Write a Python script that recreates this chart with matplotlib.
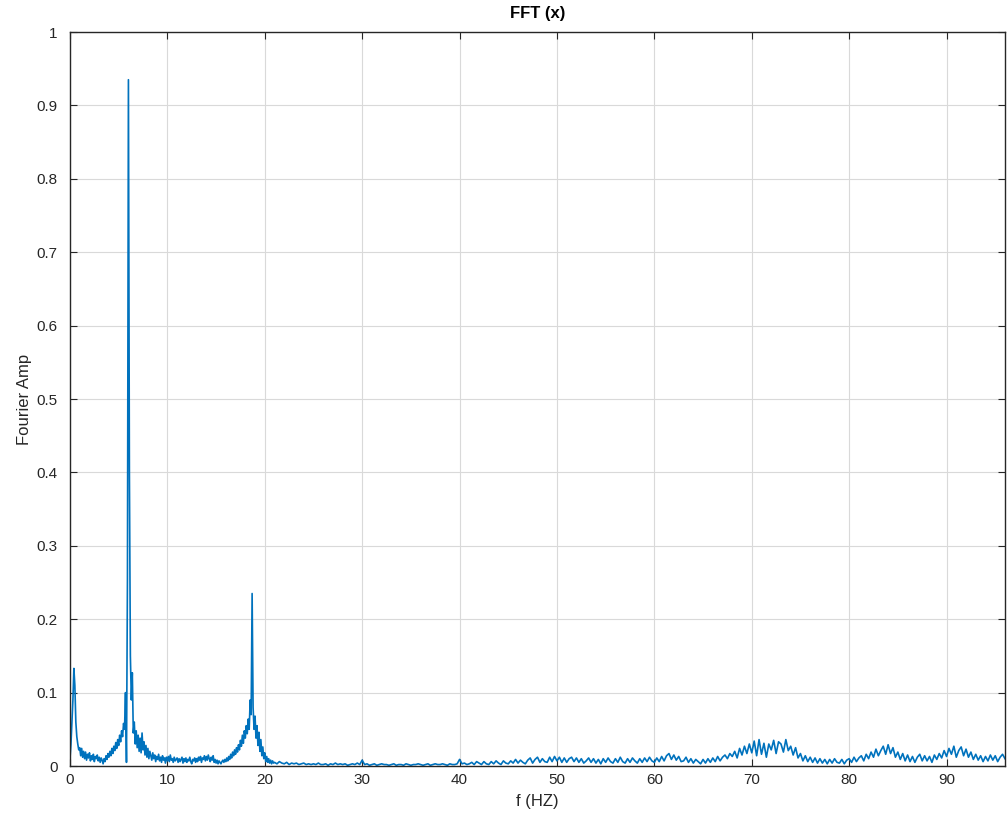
#FFT amplitude spectrum
import numpy as np
import matplotlib.pyplot as plt
from matplotlib.ticker import FormatStrFormatter

#low band 0 .. 20.9 Hz, step 0.1 Hz, amplitude in thousandths
low_start = 0.0
low_step = 0.1
low_amp = [
    10, 30, 60, 90, 133, 110, 60, 40, 30, 22,
    25, 14, 24, 12, 20, 10, 19, 8, 16, 11,
    18, 7, 14, 9, 16, 6, 13, 10, 15, 7,
    12, 5, 11, 8, 3, 10, 6, 14, 9, 17,
    12, 20, 14, 24, 17, 27, 21, 32, 24, 36,
    28, 42, 33, 48, 40, 58, 50, 100, 5, 255,
    935, 400, 150, 90, 127, 45, 60, 30, 48, 25,
    42, 20, 38, 18, 45, 22, 33, 15, 28, 12,
    24, 10, 20, 14, 8, 18, 10, 15, 6, 13,
    9, 16, 7, 12, 5, 14, 8, 11, 4, 12,
    7, 13, 6, 15, 8, 10, 5, 12, 7, 9,
    11, 5, 10, 6, 9, 12, 4, 10, 6, 11,
    5, 9, 7, 12, 6, 3, 9, 7, 11, 5,
    10, 6, 12, 8, 13, 5, 11, 9, 14, 7,
    13, 8, 15, 10, 6, 12, 8, 14, 5, 9,
    4, 8, 3, 7, 5, 3, 6, 8, 5, 9,
    6, 11, 7, 13, 9, 16, 11, 19, 14, 22,
    16, 25, 19, 29, 22, 35, 27, 42, 31, 48,
    38, 55, 44, 64, 50, 90, 70, 235, 80, 50,
    68, 38, 55, 28, 46, 20, 36, 14, 26, 10,
    18, 6, 13, 5, 10, 4, 8, 3, 7, 4,
]

#high band 21 .. 96 Hz, step 0.25 Hz, amplitude in thousandths
high_start = 21.0
high_step = 0.25
high_amp = [
    5, 3, 6, 4,  3, 5, 2, 4,  3, 4, 2, 3,  4, 2, 3, 2,  3, 2, 4, 2,
    2, 3, 1, 3,  2, 4, 2, 3,  2, 3, 1, 2,  3, 2, 4, 2,  8, 2, 3, 1,
    2, 3, 1, 2,  3, 2, 2, 1,  2, 3, 1, 2,  2, 1, 3, 2,  1, 2, 2, 3,
    2, 1, 2, 3,  1, 2, 3, 2,  2, 3, 2, 1,  3, 2, 2, 3,  9, 3, 4, 2,
    3, 5, 2, 6,  4, 2, 6, 3,  2, 6, 3, 7,  4, 2, 7, 4,  3, 7, 4, 9,
    4, 8, 5, 3,  8, 11, 4, 9,  12, 5, 10, 6,  5, 12, 6, 13,  7, 12, 5, 11,
    5, 10, 12, 6,  11, 5, 10, 4,  7, 11, 5, 10,  4, 9, 3, 10,  5, 11, 6, 4,
    10, 5, 12, 6,  4, 10, 5, 11,  7, 4, 10, 5,  11, 6, 12, 7,  5, 11, 6, 13,
    7, 14, 17, 9,  15, 8, 13, 6,  7, 12, 5, 10,  4, 9, 6, 3,  9, 4, 10, 5,
    11, 6, 13, 7,  12, 15, 10, 17,  13, 20, 11, 24,  15, 27, 17, 30,
    18, 34, 14, 36,  16, 31, 12, 30,  22, 35, 17, 33,  30, 19, 36, 21,
    27, 15, 25, 11,  17, 7, 14, 6,  12, 5, 11, 4,  10, 4, 9, 3,
    9, 4, 10, 5,  4, 9, 3, 8,
    10, 5, 12, 6,  11, 14, 7, 16,  10, 19, 12, 23,  14, 21, 27, 16,
    29, 17, 25, 12,  19, 9, 17, 7,  15, 6, 13, 5,  12, 16, 7, 14,
    7, 13, 5, 15,  9, 17, 11, 21,
    13, 24, 16, 27,  12, 21, 26, 14,  23, 12, 19, 9,  16, 8, 14, 6,
    13, 7, 15, 8,  14, 6, 12, 16,  10,
]

f_low = low_start + low_step * np.arange(len(low_amp))
f_high = high_start + high_step * np.arange(len(high_amp))
f = np.concatenate([f_low, f_high])
amp = np.concatenate([low_amp, high_amp]) / 1000.0

plt.rcParams['font.family'] = ['Liberation Sans', 'DejaVu Sans']

fig = plt.figure(figsize=(10.07, 8.17), dpi=100)
ax = fig.add_axes([0.0695, 0.0624, 0.9285, 0.8984])

ax.plot(f, amp, color='#0072BD', linewidth=1.2)

ax.set_xlim(0, 96)
ax.set_ylim(0, 1)
ax.set_xticks(np.arange(0, 91, 10))
ax.set_yticks(np.arange(0, 1.01, 0.1))
ax.yaxis.set_major_formatter(FormatStrFormatter('%g'))
ax.grid(True, color='#d9d9d9', linewidth=0.8)
ax.set_axisbelow(True)
ax.tick_params(direction='in', top=True, right=True, length=5,
               labelsize=11, colors='#262626')
ax.tick_params(axis='y', pad=9)
ax.tick_params(axis='x', pad=5)
for s in ax.spines.values():
    s.set_color('#262626')
    s.set_linewidth(1.0)

ax.set_title('FFT (x)', fontsize=12, fontweight='bold', pad=10)
ax.set_xlabel('f (HZ)', fontsize=12, color='#262626', labelpad=5)
ax.set_ylabel('Fourier Amp', fontsize=12, color='#262626', labelpad=3)

fig.savefig('out.png', dpi=100)
